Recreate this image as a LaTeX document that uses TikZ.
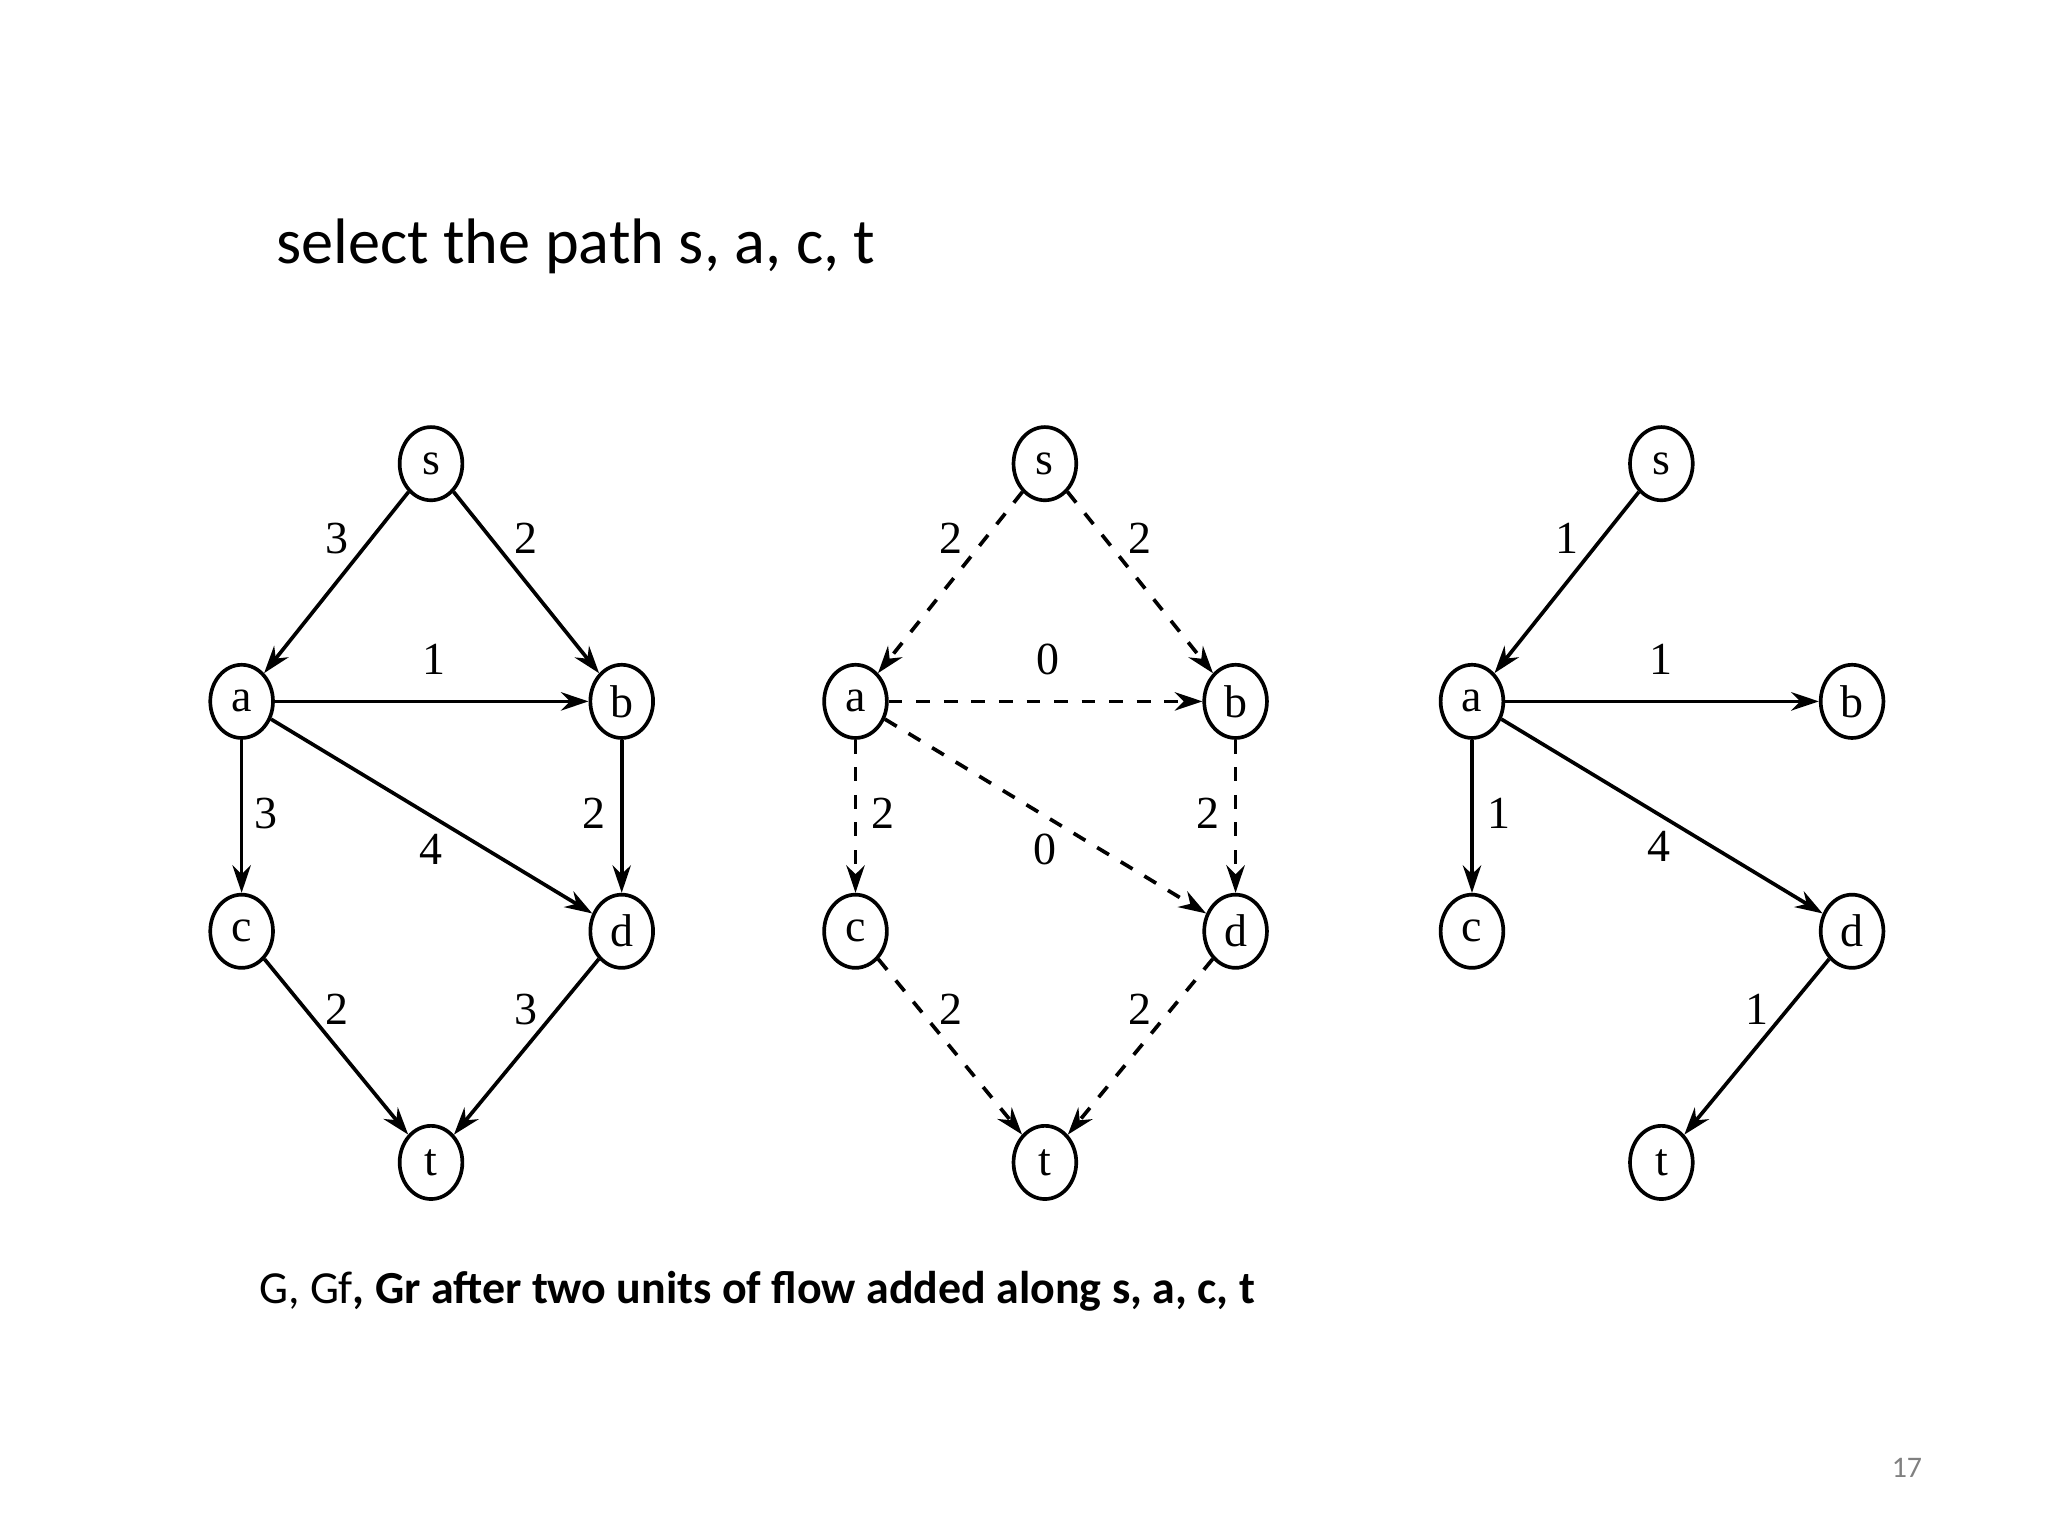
\documentclass[tikz,border=0pt]{standalone}
\usepackage{fontspec}
\setmainfont{Liberation Serif}
\newfontfamily\slidefont{Carlito}
\usetikzlibrary{shapes.geometric,arrows.meta}
\begin{document}
\begin{tikzpicture}[x=0.01cm,y=-0.01cm,
      vertex/.style={ellipse,draw,thick,minimum width=0.48cm,minimum height=0.56cm,inner sep=0pt,font=\fontsize{10}{10}\selectfont},
      flow/.style={-{Stealth[length=6pt,width=4pt]},thick},
      resid/.style={flow,dashed},
      lbl/.style={font=\fontsize{10}{10}\selectfont,inner sep=0pt}]
  \useasboundingbox (0,0) rectangle (1568,1176);
  % title and captions
  \node[anchor=base west,font=\slidefont\fontsize{14}{16}\selectfont] (title) at (199,202) {select the path s, a, c, t};
  \node[anchor=base west,font=\slidefont\fontsize{10}{12}\selectfont] (caption) at (186,998)
    {G, Gf\textbf{, Gr after two units of flow added along s, a, c, t}};
  \node[anchor=base,font=\slidefont\fontsize{6.5}{8}\selectfont,text=gray] (page) at (1460,1131) {17};
  % vertices of the three graphs
  \foreach \g/\dx in {1/0,2/470,3/942}{
    \node[vertex] (s\g) at (330+\dx,355) {s};
    \node[vertex] (a\g) at (185+\dx,537) {a};
    \node[vertex] (b\g) at (476+\dx,537) {b};
    \node[vertex] (c\g) at (185+\dx,713) {c};
    \node[vertex] (d\g) at (476+\dx,713) {d};
    \node[vertex] (t\g) at (330+\dx,890) {t};
  }
  % G
  \draw[flow] (s1) -- (a1);
  \draw[flow] (s1) -- (b1);
  \draw[flow] (a1) -- (b1);
  \draw[flow] (a1) -- (c1);
  \draw[flow] (a1) -- (d1);
  \draw[flow] (b1) -- (d1);
  \draw[flow] (c1) -- (t1);
  \draw[flow] (d1) -- (t1);
  \node[lbl] at (258,412) {3};
  \node[lbl] at (403,412) {2};
  \node[lbl] at (332,505) {1};
  \node[lbl] at (204,623) {3};
  \node[lbl] at (330,650) {4};
  \node[lbl] at (455,623) {2};
  \node[lbl] at (258,773) {2};
  \node[lbl] at (403,773) {3};
  % Gf
  \draw[resid] (s2) -- (a2);
  \draw[resid] (s2) -- (b2);
  \draw[resid] (a2) -- (b2);
  \draw[resid] (a2) -- (c2);
  \draw[resid] (a2) -- (d2);
  \draw[resid] (b2) -- (d2);
  \draw[resid] (c2) -- (t2);
  \draw[resid] (d2) -- (t2);
  \node[lbl] at (728,412) {2};
  \node[lbl] at (873,412) {2};
  \node[lbl] at (802,505) {0};
  \node[lbl] at (676,623) {2};
  \node[lbl] at (800,650) {0};
  \node[lbl] at (925,623) {2};
  \node[lbl] at (728,773) {2};
  \node[lbl] at (873,773) {2};
  % Gr
  \draw[flow] (s3) -- (a3);
  \draw[flow] (a3) -- (b3);
  \draw[flow] (a3) -- (c3);
  \draw[flow] (a3) -- (d3);
  \draw[flow] (d3) -- (t3);
  \node[lbl] at (1200,412) {1};
  \node[lbl] at (1272,505) {1};
  \node[lbl] at (1148,623) {1};
  \node[lbl] at (1270,648) {4};
  \node[lbl] at (1345,773) {1};
\end{tikzpicture}
\end{document}
